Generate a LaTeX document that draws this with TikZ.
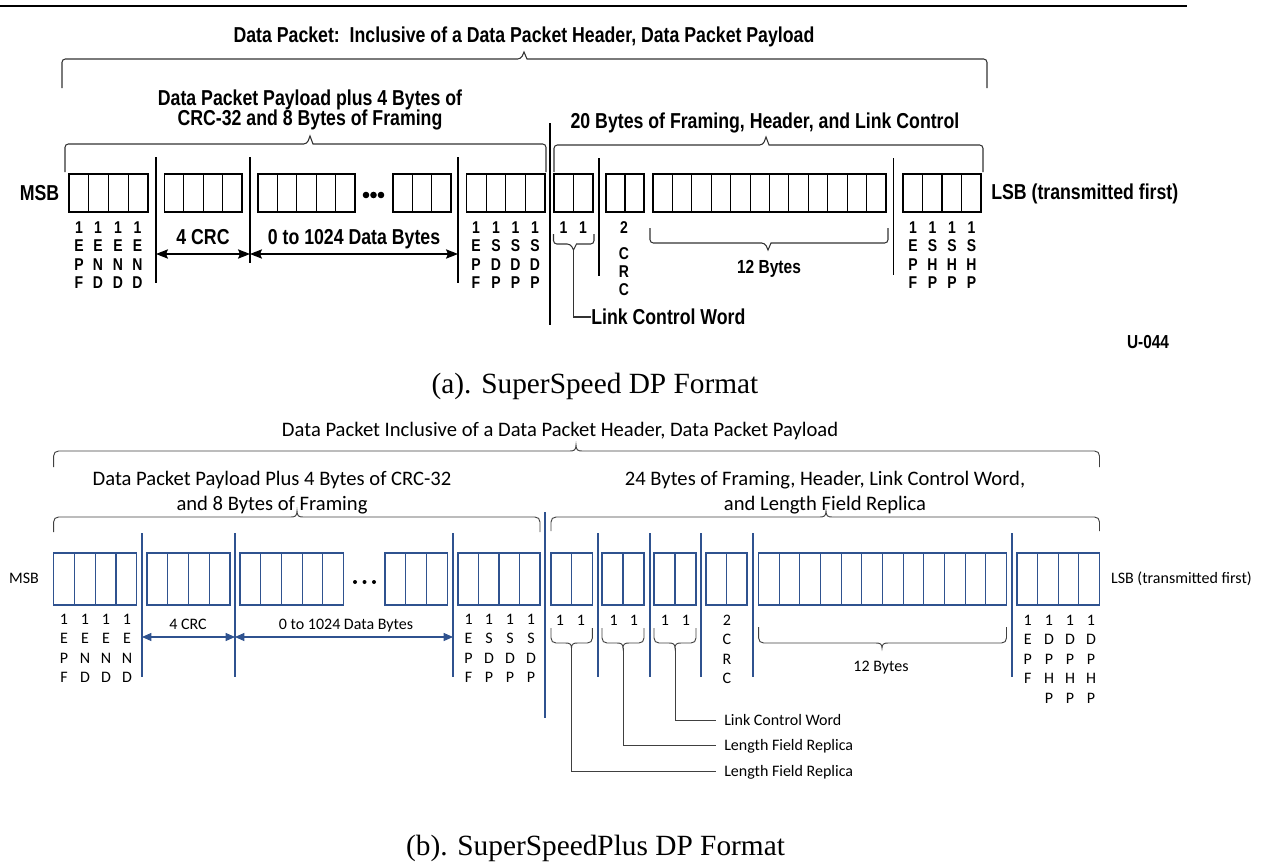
\documentclass[tikz,border=0pt]{standalone}
\usepackage{fontspec}
\setmainfont{Liberation Serif}
\newfontfamily\arialn{Liberation Sans}[FakeStretch=0.82]
\newfontfamily\calf{Carlito}
\usetikzlibrary{arrows.meta}
\definecolor{bblue}{RGB}{47,82,143}
\definecolor{bgray}{RGB}{64,64,64}
% row of byte cells: x0, x1, n, ytop, ybot, style
\newcommand\cellrow[6]{%
  \draw[#6] (#1,#4) rectangle (#2,#5);
  \pgfmathtruncatemacro\cellsn{#3-1}%
  \foreach \j in {1,...,\cellsn}{\draw[#6] ({#1+\j*(#2-#1)/#3},#4) -- ({#1+\j*(#2-#1)/#3},#5);}%
}
% spike brace: x1, x2, yline, yend, tipx, tipy, name
\newcommand\spikebrace[7]{%
  \draw[abr] (#1,#4) [rounded corners=2.5pt] |- ({#5-3},#3) [sharp corners] -- (#5,#6) -- ({#5+3},#3) [rounded corners=2.5pt] -| (#2,#4);
  \coordinate (#7) at (#5,#6);
}
% curly brace: x1, x2, yline, yend, tipx, tipy, dir, name
\newcommand\curlybrace[8]{%
  \draw[bbr] (#1,#4) -- (#1,{#3+5*(#7)}) .. controls (#1,{#3+2*(#7)}) and ({#1+2},#3) .. ({#1+5},#3)
    -- ({#5-6},#3) .. controls ({#5-2},#3) and (#5,{#3-(#7)}) .. (#5,#6)
    .. controls (#5,{#3-(#7)}) and ({#5+2},#3) .. ({#5+6},#3)
    -- ({#2-5},#3) .. controls ({#2-2},#3) and (#2,{#3+2*(#7)}) .. (#2,{#3+5*(#7)}) -- (#2,#4);
  \coordinate (#8) at (#5,#6);
}
% vertical stack of letters: style, name, x, y0, dy, list
\newcommand\vstack[6]{%
  \foreach \ch [count=\k from 0] in {#6}{\node[#1] (#2-\k) at ({#3},{#4+#5*\k}) {\ch};}%
}
\begin{document}
\begin{tikzpicture}[x=0.75pt,y=-0.75pt,
  atx/.style={font=\arialn\bfseries\fontsize{16.2}{18}\selectfont,inner sep=0pt,text height=11.6pt,text depth=0pt},
  astk/.style={font=\arialn\bfseries\fontsize{12.8}{15}\selectfont,inner sep=0pt,text height=9.2pt,text depth=0pt},
  btx/.style={font=\calf\fontsize{12}{14}\selectfont,inner sep=0pt,text height=7.6pt,text depth=0pt},
  btl/.style={font=\calf\fontsize{15.45}{18}\selectfont,inner sep=0pt,text height=9.8pt,text depth=0pt},
  captxt/.style={font=\fontsize{22}{26}\selectfont,inner sep=0pt,text height=14.6pt,text depth=0pt},
  abox/.style={draw=black,line width=0.8pt},
  asep/.style={draw=black,line width=0.8pt},
  abr/.style={draw=black!80,line width=0.8pt},
  aarr/.style={draw=black,line width=0.8pt,{Stealth[length=9pt,width=7pt,inset=1.5pt]}-{Stealth[length=9pt,width=7pt,inset=1.5pt]}},
  bbox/.style={draw=bblue,line width=0.8pt},
  bsep/.style={draw=bblue,line width=0.8pt},
  bbr/.style={draw=bgray,line width=0.7pt},
  barr/.style={draw=bblue,line width=0.8pt,{Triangle[length=7pt,width=6pt]}-{Triangle[length=7pt,width=6pt]}},
  bcon/.style={draw=bgray,line width=0.7pt},
]
\useasboundingbox (0,0) rectangle (1266,867);
% ================= (a) =================
\coordinate (tl0) at (0,6); \coordinate (tl1) at (1187,6);
\draw[line width=1.7pt] (tl0) -- (tl1);
\node[atx] (ta) at (524,35) {Data Packet:\ \ Inclusive of a Data Packet Header, Data Packet Payload};
\spikebrace{62}{987}{59}{88}{524}{52}{ta-tip}
\node[atx] (pa1) at (310,98) {Data Packet Payload plus 4 Bytes of};
\node[atx] (pa2) at (310,118) {CRC-32 and 8 Bytes of Framing};
\spikebrace{65}{546}{144}{172}{310}{136}{pa-tip}
\node[atx] (ha) at (765,121) {20 Bytes of Framing, Header, and Link Control};
\spikebrace{554}{983}{145}{172}{766}{137}{ha-tip}
% separators
\draw[asep] (550,123) -- (550,325);
\draw[asep] (156,157) -- (156,283);
\draw[asep] (250,157) -- (250,263);
\draw[asep] (458,157) -- (458,283);
\draw[asep] (599,158) -- (599,276);
\draw[asep] (893.5,158) -- (893.5,275);
% cells
\cellrow{69}{148}{4}{174}{212}{abox}
\cellrow{164.5}{242}{4}{174}{212}{abox}
\cellrow{258}{355}{5}{174}{212}{abox}
\cellrow{393}{451}{3}{174}{212}{abox}
\cellrow{466.5}{545}{4}{174}{212}{abox}
\cellrow{554}{593}{2}{174}{212}{abox}
\cellrow{606}{644}{2}{174}{212}{abox}
\cellrow{653}{886}{12}{174}{212}{abox}
\cellrow{903}{981}{4}{174}{212}{abox}
\foreach \d in {366,373.5,381} \fill (\d,195) circle (3.3);
\node[atx] (msba) at (39.5,193) {MSB};
\node[atx,anchor=west] (lsba) at (991,192) {LSB (transmitted first)};
% labels
\vstack{astk}{a1}{79}{227}{18.5}{1,E,P,F}
\vstack{astk}{a2}{98}{227}{18.5}{1,E,N,D}
\vstack{astk}{a3}{118}{227}{18.5}{1,E,N,D}
\vstack{astk}{a4}{137.5}{227}{18.5}{1,E,N,D}
\node[atx] (acrc) at (203,237) {4 CRC};
\node[atx] (adata) at (354,237) {0 to 1024 Data Bytes};
\coordinate (aA1) at (156,254); \coordinate (aA2) at (250,254); \coordinate (aA3) at (458,254);
\draw[aarr] (aA1) -- (aA2);
\draw[aarr] (aA2) -- (aA3);
\vstack{astk}{a5}{476}{227}{18.5}{1,E,P,F}
\vstack{astk}{a6}{496}{227}{18.5}{1,S,D,P}
\vstack{astk}{a7}{515.5}{227}{18.5}{1,S,D,P}
\vstack{astk}{a8}{535}{227}{18.5}{1,S,D,P}
\node[astk] (a9) at (563.5,227) {1};
\node[astk] (a10) at (583,227) {1};
\spikebrace{553.5}{594}{244}{234}{573.5}{250}{alcw-tip}
\node[atx,anchor=west] (alcw) at (591,317) {Link Control Word};
\draw[abr] (alcw-tip) |- (alcw.west);
\node[astk] (a11) at (624,227) {2};
\vstack{astk}{a12}{624}{253}{18}{C,R,C}
\spikebrace{650}{888}{243}{228}{768}{250}{a12b-tip}
\node[atx,font=\arialn\bfseries\fontsize{14.2}{16}\selectfont,text height=10.2pt] (a12b) at (769,267) {12 Bytes};
\vstack{astk}{a13}{913}{227}{18.5}{1,E,P,F}
\vstack{astk}{a14}{932.5}{227}{18.5}{1,S,H,P}
\vstack{astk}{a15}{952}{227}{18.5}{1,S,H,P}
\vstack{astk}{a16}{971.5}{227}{18.5}{1,S,H,P}
\node[atx,font=\arialn\bfseries\fontsize{14.1}{16}\selectfont,text height=10.1pt] (u044) at (1148,342) {U-044};
\node[captxt] (capa) at (595,384) {(a). SuperSpeed DP Format};
% ================= (b) =================
\node[btl] (tb) at (560,430) {Data Packet Inclusive of a Data Packet Header, Data Packet Payload};
\curlybrace{53.6}{1099.5}{451}{467}{576}{445}{1}{tb-tip}
\node[btl] (pb1) at (272,479) {Data Packet Payload Plus 4 Bytes of CRC-32};
\node[btl] (pb2) at (272,504) {and 8 Bytes of Framing};
\curlybrace{53.6}{540}{517}{532}{297}{511}{1}{pb-tip}
\node[btl] (hb1) at (825,479) {24 Bytes of Framing, Header, Link Control Word,};
\node[btl] (hb2) at (825,504) {and Length Field Replica};
\curlybrace{551}{1099.5}{517}{531}{826}{511}{1}{hb-tip}
% separators
\draw[bsep] (545,512) -- (545,718);
\foreach \s in {142,235,453,598,650,701,753,1012} \draw[bsep] (\s,533) -- (\s,677);
% cells
\cellrow{53.6}{136.8}{4}{553}{605}{bbox}
\cellrow{147}{230}{4}{553}{605}{bbox}
\cellrow{240}{343.6}{5}{553}{605}{bbox}
\cellrow{385}{447.5}{3}{553}{605}{bbox}
\cellrow{458}{540}{4}{553}{605}{bbox}
\cellrow{551}{592.4}{2}{553}{605}{bbox}
\cellrow{602}{644}{2}{553}{605}{bbox}
\cellrow{654}{696}{2}{553}{605}{bbox}
\cellrow{706}{747}{2}{553}{605}{bbox}
\cellrow{758.6}{1006.5}{12}{553}{605}{bbox}
\cellrow{1017}{1099.5}{4}{553}{605}{bbox}
\foreach \d in {355,364.5,374} \fill (\d,582) circle (2);
\node[btx] (msbb) at (24,578) {MSB};
\node[btx,anchor=west] (lsbb) at (1110.8,578) {LSB (transmitted first)};
% labels
\vstack{btx}{b1}{64}{619}{19.5}{1,E,P,F}
\vstack{btx}{b2}{85}{619}{19.5}{1,E,N,D}
\vstack{btx}{b3}{106}{619}{19.5}{1,E,N,D}
\vstack{btx}{b4}{127}{619}{19.5}{1,E,N,D}
\node[btx] (bcrc) at (188,624) {4 CRC};
\node[btx] (bdata) at (346,624) {0 to 1024 Data Bytes};
\coordinate (bA1) at (142,637); \coordinate (bA2) at (235,637); \coordinate (bA3) at (453,637);
\draw[barr] (bA1) -- (bA2);
\draw[barr] (bA2) -- (bA3);
\vstack{btx}{b5}{468.6}{619}{19.5}{1,E,P,F}
\vstack{btx}{b6}{489}{619}{19.5}{1,S,D,P}
\vstack{btx}{b7}{510}{619}{19.5}{1,S,D,P}
\vstack{btx}{b8}{531}{619}{19.5}{1,S,D,P}
\node[btx] (b9a) at (560,620) {1};
\node[btx] (b9b) at (581,620) {1};
\node[btx] (b10a) at (613.6,620) {1};
\node[btx] (b10b) at (634,620) {1};
\node[btx] (b11a) at (665,620) {1};
\node[btx] (b11b) at (686,620) {1};
\curlybrace{551}{592.4}{643}{628}{571.5}{648}{-1}{bl1}
\curlybrace{602}{644}{643}{628}{623}{648}{-1}{bl2}
\curlybrace{654}{696}{643}{628}{675}{648}{-1}{bl3}
\node[btx,anchor=west,inner xsep=6pt] (blcw) at (716,720) {Link Control Word};
\node[btx,anchor=west,inner xsep=6pt] (lfr2) at (716,745) {Length Field Replica};
\node[btx,anchor=west,inner xsep=6pt] (lfr1) at (716,771) {Length Field Replica};
\draw[bcon] (bl3) |- (blcw.west);
\draw[bcon] (bl2) |- (lfr2.west);
\draw[bcon] (bl1) |- (lfr1.west);
\vstack{btx}{b12}{727}{620}{19.5}{2,C,R,C}
\curlybrace{758.6}{1006.5}{643}{627}{882}{648}{-1}{b12b-tip}
\node[btx] (b12b) at (881,666) {12 Bytes};
\vstack{btx}{b13}{1027.7}{620}{19.5}{1,E,P,F}
\vstack{btx}{b14}{1049}{620}{19.5}{1,D,P,H,P}
\vstack{btx}{b15}{1070}{620}{19.5}{1,D,P,H,P}
\vstack{btx}{b16}{1091}{620}{19.5}{1,D,P,H,P}
\node[captxt] (capb) at (595.5,846) {(b). SuperSpeedPlus DP Format};
\end{tikzpicture}
\end{document}
